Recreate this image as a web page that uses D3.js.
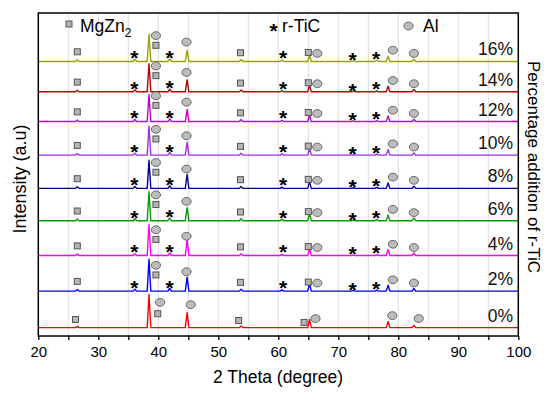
<!DOCTYPE html>
<html><head><meta charset="utf-8">
<script src="https://cdn.jsdelivr.net/npm/d3@7"></script>
<style>body{margin:0;background:#fff}svg{display:block}</style>
</head><body>
<svg id="c" width="550" height="396"></svg>
<script>
// ---------- data ----------
const seriesLabels = ['0%','2%','4%','6%','8%','10%','12%','14%','16%'];
const seriesColors = ['#ff0000','#0000ff','#ff00ff','#00a000','#000090','#a030e8','#cc00cc','#c00000','#a0a000'];
const seriesOffsets = [26, 139, 249, 357, 457, 560, 664, 756, 850];
const peakPositions = [26.5, 36.1, 38.45, 41.9, 44.8, 53.8, 60.6, 65.2, 72.5, 76.4, 78.3, 82.6];
const peaks0  = [4, 0, 102, 0, 46, 5, 0, 25, 0, 0, 19, 7];
const peaks2  = [5, 6, 99, 8, 43, 6, 4, 22, 2, 3, 18, 8];
const peaks4  = [5, 6, 96, 8, 50, 6, 4, 22, 2, 3, 18, 8];
const peaks6  = [5, 6, 90, 8, 40, 6, 4, 22, 2, 3, 18, 8];
const peaks8  = [5, 6, 87, 8, 43, 6, 4, 20, 2, 3, 17, 7];
const peaks10 = [5, 6, 90, 8, 40, 6, 4, 21, 2, 3, 17, 7];
const peaks12 = [5, 6, 84, 8, 37, 6, 4, 20, 2, 3, 17, 7];
const peaks14 = [5, 6, 87, 8, 37, 6, 4, 20, 2, 3, 17, 7];
const peaks16 = [5, 6, 84, 8, 34, 6, 4, 20, 2, 3, 16, 7];
const seriesPeaks = [peaks0, peaks2, peaks4, peaks6, peaks8, peaks10, peaks12, peaks14, peaks16];

// phase markers: [2theta, height above baseline]
const squares0 = [[26.2, 25], [39.9, 43], [53.4, 22], [64.3, 16]];
const circles0 = [[40.3, 78], [45.4, 71], [66.2, 28], [79.0, 37], [83.4, 28]];
const squaresN = [[26.5, 30], [39.6, 50], [53.7, 27], [65.0, 28]];
const circlesN = [[39.6, 80], [44.7, 60], [66.5, 25], [79.1, 35], [82.6, 25]];
const starsN   = [[36.0, 25], [41.9, 26], [60.8, 25], [72.4, 19], [76.3, 23]];

const xTicks = [20, 25, 30, 35, 40, 45, 50, 55, 60, 65, 70, 75, 80, 85, 90, 95, 100];
const xTickLabels = [20, 30, 40, 50, 60, 70, 80, 90, 100];

// ---------- chart ----------
const svg = d3.select('#c');
const FONT = "'Liberation Sans', Arial, sans-serif";
const L = 38.3, R = 518.3, T = 13, B = 336;
const x = d3.scaleLinear().domain([20, 100]).range([L, R]);
const y = d3.scaleLinear().domain([0, 1000]).range([B, T]);
const pxPerUnit = (B - T) / 1000;

// grid
svg.append('g').selectAll('line').data(xTicks.filter(t => t > 20 && t < 100)).join('line')
  .attr('x1', d => x(d)).attr('x2', d => x(d)).attr('y1', T).attr('y2', B)
  .attr('stroke', '#dcdcdc').attr('stroke-width', 1);

// traces
const halfW = 0.3;
function tracePoints(heights) {
  const pts = [[20, 0]];
  peakPositions.forEach((p, i) => {
    pts.push([p - halfW, 0], [p, heights[i]], [p + halfW, 0]);
  });
  pts.push([100, 0]);
  return pts;
}
const line = d3.line().x(d => x(d[0])).y(d => d[1]);
seriesLabels.forEach((lab, si) => {
  const off = seriesOffsets[si];
  const pts = tracePoints(seriesPeaks[si]).map(p => [p[0], y(off + p[1])]);
  svg.append('path').attr('d', line(pts)).attr('fill', 'none')
    .attr('stroke', seriesColors[si]).attr('stroke-width', 1.4).attr('stroke-linejoin', 'round');
});

// markers
function drawSquare(g, cx, cy) {
  g.append('rect').attr('x', cx - 3).attr('y', cy - 3).attr('width', 6).attr('height', 6)
    .attr('fill', '#b4b4b4').attr('stroke', '#555').attr('stroke-width', 1);
}
function drawCircle(g, cx, cy) {
  g.append('ellipse').attr('cx', cx).attr('cy', cy).attr('rx', 4.6).attr('ry', 3.9)
    .attr('fill', '#bcbcbc').attr('stroke', '#666').attr('stroke-width', 1);
}
function drawStar(g, cx, cy) {
  g.append('text').attr('x', cx).attr('y', cy + 12).attr('text-anchor', 'middle')
    .attr('font-family', FONT).attr('font-size', 21).attr('font-weight', 'bold')
    .attr('fill', '#000').text('*');
}
const mg = svg.append('g');
seriesLabels.forEach((lab, si) => {
  const off = seriesOffsets[si];
  const sq = si === 0 ? squares0 : squaresN;
  const ci = si === 0 ? circles0 : circlesN;
  const st = si === 0 ? [] : starsN;
  sq.forEach(m => drawSquare(mg, x(m[0]), y(off + m[1])));
  ci.forEach(m => drawCircle(mg, x(m[0]), y(off + m[1])));
  st.forEach(m => drawStar(mg, x(m[0]), y(off + m[1])));
  svg.append('text').attr('x', 513).attr('y', y(off) - 6).attr('text-anchor', 'end')
    .attr('font-family', FONT).attr('font-size', 17.5).attr('fill', '#111').text(lab);
});

// frame
svg.append('rect').attr('x', L).attr('y', T).attr('width', R - L).attr('height', B - T)
  .attr('fill', 'none').attr('stroke', '#000').attr('stroke-width', 1.5);

// x axis
const ax = svg.append('g').attr('transform', `translate(0,${B})`)
  .call(d3.axisBottom(x).tickValues(xTicks).tickSize(4)
    .tickFormat(d => xTickLabels.includes(d) ? d : ''));
ax.select('.domain').remove();
ax.selectAll('line').attr('stroke', '#000').attr('stroke-width', 1.3);
ax.selectAll('text').attr('font-family', FONT).attr('font-size', 15).attr('fill', '#000')
  .attr('dy', 0).attr('y', 21);

// axis titles
svg.append('text').attr('x', 278).attr('y', 383).attr('text-anchor', 'middle')
  .attr('font-family', FONT).attr('font-size', 17.5).attr('fill', '#000').text('2 Theta (degree)');
svg.append('text').attr('transform', 'translate(26,179) rotate(-90)').attr('text-anchor', 'middle')
  .attr('font-family', FONT).attr('font-size', 18).attr('fill', '#000').text('Intensity (a.u)');
svg.append('text').attr('transform', 'translate(528,167) rotate(90)').attr('text-anchor', 'middle')
  .attr('font-family', FONT).attr('font-size', 17).attr('fill', '#000').text('Percentage addition of r-TiC');

// legend
const lg = svg.append('g');
drawSquare(lg, 69, 24);
const t1 = lg.append('text').attr('x', 80).attr('y', 31.5).attr('font-family', FONT)
  .attr('font-size', 17.5).attr('fill', '#000');
t1.append('tspan').text('MgZn');
t1.append('tspan').attr('font-size', 12).attr('dy', 5).text('2');
drawStar(lg, 273.5, 26);
lg.append('text').attr('x', 282).attr('y', 31.5).attr('font-family', FONT)
  .attr('font-size', 17.5).attr('fill', '#000').text('r-TiC');
drawCircle(lg, 408.5, 26);
lg.append('text').attr('x', 423).attr('y', 31.5).attr('font-family', FONT)
  .attr('font-size', 17.5).attr('fill', '#000').text('Al');
</script>
</body></html>
